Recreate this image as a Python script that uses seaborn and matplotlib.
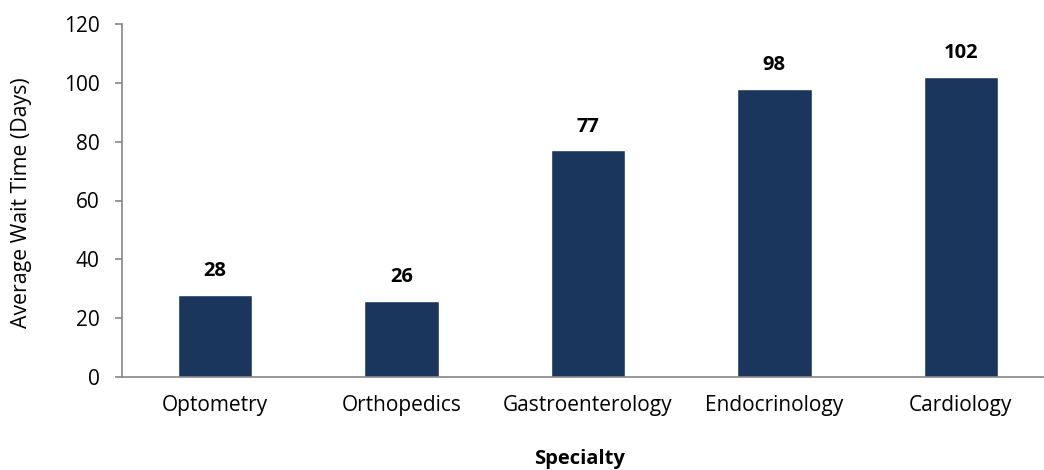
import numpy as np
import pandas as pd
import matplotlib
matplotlib.use("Agg")
import matplotlib.pyplot as plt
import seaborn as sns

# Datos del grafico
specialties = ["Optometry", "Orthopedics", "Gastroenterology", "Endocrinology", "Cardiology"]
wait_days = [28, 26, 77, 98, 102]
y_ticks = [0, 20, 40, 60, 80, 100, 120]

df = pd.DataFrame({"Specialty": specialties, "Days": wait_days})

sns.set_theme(style="white")
plt.rcParams["font.family"] = ["Open Sans", "DejaVu Sans"]

BAR_COLOR = "#1b365d"
AXIS_COLOR = "#868686"

fig = plt.figure(figsize=(10.44, 4.70), dpi=100)
# el eje derecho se sale de la figura, igual que en la referencia
ax = fig.add_axes([122 / 1044, 1 - 377 / 470, 932 / 1044, 353 / 470])

sns.barplot(data=df, x="Specialty", y="Days", color=BAR_COLOR, width=0.4,
            saturation=1, ax=ax)

ax.set_xlim(-0.5, len(specialties) - 0.5)
ax.set_ylim(0, 120)
ax.set_yticks(y_ticks)

# etiquetas encima de cada barra
for i, v in enumerate(wait_days):
    ax.annotate(str(v), (i, v), xytext=(0, 13.5), textcoords="offset points",
                ha="center", va="baseline", fontsize=14.5, fontweight="bold", color="black")

for side in ["top", "right"]:
    ax.spines[side].set_visible(False)
for side in ["left", "bottom"]:
    ax.spines[side].set_color(AXIS_COLOR)
    ax.spines[side].set_linewidth(1.2)

# ticks del eje x entre categorias
ax.set_xticks(np.arange(-0.5, len(specialties) - 0.5, 1), minor=True)
ax.tick_params(axis="x", which="major", length=0, pad=13, labelsize=15, colors="black")
ax.tick_params(axis="x", which="minor", length=5, width=1.2, color=AXIS_COLOR, direction="out")
ax.tick_params(axis="y", which="major", length=5, width=1.2, color=AXIS_COLOR,
               direction="out", labelsize=15, labelcolor="black", left=True, pad=11)

ax.set_ylabel("Average Wait Time (Days)", fontsize=15.3, color="black")
ax.yaxis.set_label_coords(-0.097, 0.494)
ax.set_xlabel("Specialty", fontsize=14.5, fontweight="bold", color="black")
ax.xaxis.set_label_coords(0.491, -0.203)

fig.savefig("out.png", dpi=100)
